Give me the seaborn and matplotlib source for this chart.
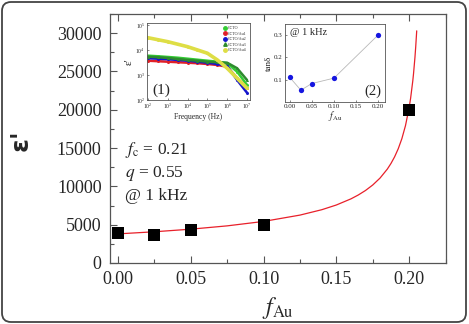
import matplotlib
matplotlib.use("Agg")
import matplotlib.pyplot as plt
import matplotlib.patches as mpatches
import matplotlib.transforms as mtransforms
from matplotlib.lines import Line2D
from matplotlib.ticker import MultipleLocator, LogLocator, NullLocator
import seaborn as sns

# main panel: epsilon' at 1 kHz vs Au fraction
f_au = [0.0, 0.025, 0.05, 0.1, 0.2]
eps_1khz = [3900, 3700, 4300, 5000, 20000]

# percolation fit curve
fit_f = [0.0, 0.025, 0.05, 0.075, 0.1, 0.125, 0.14, 0.15, 0.16, 0.165, 0.17, 0.175,
         0.18, 0.185, 0.1875, 0.19, 0.1925, 0.195, 0.1975, 0.2, 0.201, 0.2025,
         0.203, 0.204, 0.2045, 0.2052]
fit_eps = [3800, 4075, 4414, 4846, 5424, 6251, 6955, 7570, 8368, 8869, 9461, 10182,
           11084, 12253, 12985, 13851, 14908, 16225, 17940, 20280, 21492, 23765,
           24677, 26860, 28177, 30300]

# inset (1): epsilon' vs frequency
freq = [1e2, 10**2.5, 1e3, 10**3.5, 1e4, 10**4.5, 1e5, 10**5.5, 1e6, 10**6.5, 1e7]
series_names = ['CCTO', 'CCTO/Au1', 'CCTO/Au2', 'CCTO/Au3', 'CCTO/Au4']
eps_ccto = [5900, 5600, 5250, 4900, 4470, 4070, 3720, 3390, 2950, 1350, 400]
eps_au1 = [3720, 3550, 3390, 3240, 3090, 2950, 2750, 2510, 2140, 740, 295]
eps_au2 = [4680, 4470, 4270, 3980, 3720, 3390, 3090, 2750, 2290, 630, 195]
eps_au3 = [5370, 5130, 4790, 4370, 3980, 3720, 3390, 3240, 3090, 1860, 630]
eps_au4 = [30900, 25700, 21400, 17000, 13500, 10000, 7400, 4000, 1860, 740, 295]

# inset (2): tan delta at 1 kHz
tan_delta = [0.11, 0.053, 0.083, 0.107, 0.30]

sns.set_theme(style='ticks')
plt.rcParams['font.family'] = ['Liberation Serif', 'DejaVu Sans']
plt.rcParams['mathtext.fontset'] = 'stix'
plt.rcParams['xtick.direction'] = 'in'
plt.rcParams['ytick.direction'] = 'in'

SPINE = '#555555'
fig = plt.figure(figsize=(4.69, 3.24), dpi=100)

# rounded frame around the whole figure
frame = mpatches.FancyBboxPatch((2, 2), 464, 320, boxstyle='round,pad=0,rounding_size=9',
                                transform=mtransforms.IdentityTransform(),
                                facecolor='none', edgecolor='#444444', linewidth=1.3)
fig.patches.append(frame)

ax = fig.add_axes([0.2345, 0.1883, 0.7164, 0.7685])
sns.lineplot(x=fit_f, y=fit_eps, ax=ax, color='#e8202a', linewidth=0.9)
sns.scatterplot(x=f_au, y=eps_1khz, ax=ax, marker='s', s=64, color='black',
                edgecolor='black', linewidth=0, zorder=5)
ax.set_xlim(-0.0055, 0.2253)
ax.set_ylim(0, 32500)
ax.xaxis.set_major_locator(MultipleLocator(0.05))
ax.xaxis.set_minor_locator(MultipleLocator(0.025))
ax.yaxis.set_major_locator(MultipleLocator(5000))
ax.yaxis.set_minor_locator(MultipleLocator(2500))
ax.set_xticks([0.0, 0.05, 0.1, 0.15, 0.2])
ax.set_xticklabels(['0.00', '0.05', '0.10', '0.15', '0.20'])
ax.tick_params(axis='both', which='major', labelsize=13, length=5, width=0.8,
               color=SPINE, pad=6, top=True)
ax.tick_params(axis='both', which='minor', length=3, width=0.8, color=SPINE, top=True)
for s in ax.spines.values():
    s.set_color(SPINE)
    s.set_linewidth(0.9)
ax.set_xlabel(r'$f_{\mathrm{Au}}$', fontsize=17, labelpad=5)
ax.set_ylabel("ε'", fontsize=18, family='DejaVu Sans', fontweight='bold')
ax.yaxis.set_label_coords(-0.23, 0.494)
ax.text(0.045, 0.454, r'$f_{\mathrm{c}}$ = 0.21', transform=ax.transAxes, fontsize=12.5, va='center')
ax.text(0.045, 0.361, r'$q$ = 0.55', transform=ax.transAxes, fontsize=12.5, va='center')
ax.text(0.045, 0.269, '@ 1 kHz', transform=ax.transAxes, fontsize=12.5, va='center')

# inset (1)
ax1 = fig.add_axes([0.3134, 0.6914, 0.2196, 0.2377])
colors1 = ['#33cc33', '#e02028', '#1515cc', '#2e8b2e', '#dede45']
markers1 = ['o', 'o', 'o', '^', 'o']
all_eps = [eps_ccto, eps_au1, eps_au2, eps_au3, eps_au4]
for name, vals, c, m in zip(series_names, all_eps, colors1, markers1):
    lw = 2.6 if name == 'CCTO/Au4' else 1.8
    sns.lineplot(x=freq, y=vals, ax=ax1, color=c, linewidth=lw, marker=m,
                 markersize=2.2, markeredgewidth=0)
ax1.set_xscale('log')
ax1.set_yscale('log')
ax1.set_xlim(10**1.95, 10**7.15)
ax1.set_ylim(1e2, 1.2e5)
ax1.xaxis.set_major_locator(LogLocator(base=10, numticks=10))
ax1.yaxis.set_major_locator(LogLocator(base=10, numticks=10))
ax1.xaxis.set_minor_locator(NullLocator())
ax1.yaxis.set_minor_locator(NullLocator())
ax1.tick_params(labelsize=4, length=1.5, width=0.5, pad=1.5, color=SPINE)
for s in ax1.spines.values():
    s.set_color(SPINE)
    s.set_linewidth(0.6)
ax1.set_xlabel('Frequency (Hz)', fontsize=5.5, labelpad=1)
ax1.set_ylabel("ε'", fontsize=8, labelpad=1)
ax1.text(0.05, 0.08, '(1)', transform=ax1.transAxes, fontsize=11)
handles = [Line2D([], [], linestyle='none', marker=m, color=c, markersize=2.5)
           for c, m in zip(colors1, markers1)]
ax1.legend(handles, series_names, loc='upper right', fontsize=3, frameon=False,
           handletextpad=0.2, labelspacing=0.35, borderaxespad=0.4, handlelength=1)

# inset (2)
ax2 = fig.add_axes([0.6077, 0.6852, 0.2132, 0.2407])
sns.lineplot(x=f_au, y=tan_delta, ax=ax2, color='#b8b8b8', linewidth=0.6,
             marker='o', markersize=3.8, markerfacecolor='#1515e0', markeredgewidth=0)
ax2.set_xlim(-0.011, 0.216)
ax2.set_ylim(0.0, 0.35)
ax2.set_xticks([0.0, 0.05, 0.1, 0.15, 0.2])
ax2.set_xticklabels(['0.00', '0.05', '0.10', '0.15', '0.20'])
ax2.set_yticks([0.1, 0.2, 0.3])
ax2.tick_params(labelsize=5, length=1.5, width=0.5, pad=1.5, color=SPINE)
for s in ax2.spines.values():
    s.set_color(SPINE)
    s.set_linewidth(0.6)
ax2.set_xlabel(r'$f_{\mathrm{Au}}$', fontsize=7, labelpad=0)
ax2.set_ylabel('tanδ', fontsize=6.5, labelpad=1)
ax2.text(0.05, 0.95, '@ 1 kHz', transform=ax2.transAxes, fontsize=7.5, va='top')
ax2.text(0.96, 0.05, '(2)', transform=ax2.transAxes, fontsize=10.5, ha='right', va='bottom')

fig.savefig('out.png', dpi=100)
